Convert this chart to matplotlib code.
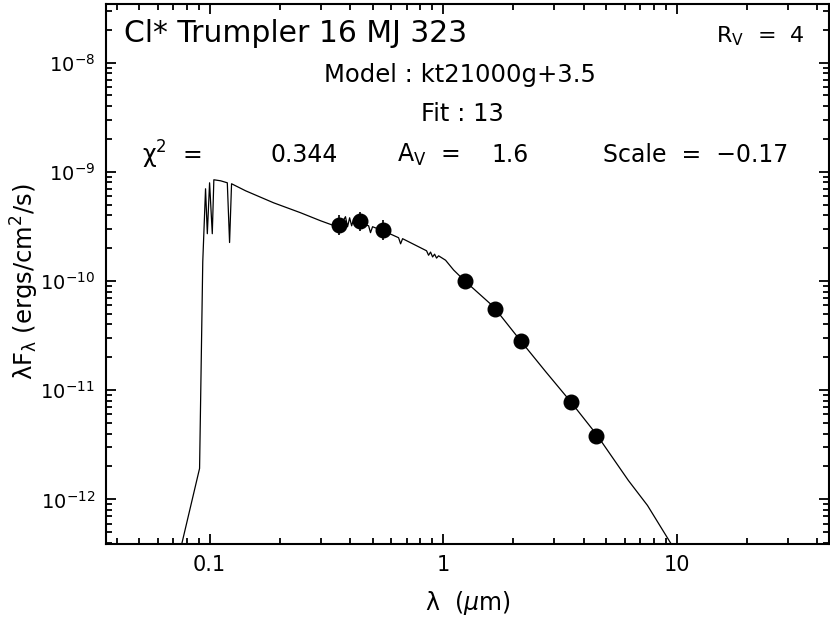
import matplotlib
matplotlib.use("Agg")
import matplotlib.pyplot as plt
from matplotlib.ticker import LogLocator, FixedLocator, FixedFormatter, NullFormatter
import numpy as np

plt.rcParams['font.family'] = ['DejaVu Sans']
plt.rcParams['mathtext.fontset'] = 'dejavusans'
plt.rcParams['mathtext.default'] = 'regular'

# model spectrum (kt21000g+3.5), wavelength in micron, lambda*F_lambda in erg/cm2/s
model_wave = [0.070, 0.0759, 0.0906, 0.0935, 0.0961, 0.0978, 0.100, 0.1027, 0.1043,
              0.1115, 0.1191, 0.1218, 0.1242, 0.1426, 0.188, 0.245, 0.2988, 0.360,
              0.382, 0.390, 0.398, 0.406, 0.414, 0.439, 0.480, 0.489, 0.499, 0.567,
              0.645, 0.658, 0.671, 0.850, 0.867, 0.884, 0.902, 0.920, 0.938, 0.957,
              1.025, 1.11, 1.236, 1.645, 2.147, 2.75, 3.516, 4.544, 6.22, 7.51, 9.52, 11.5]
model_flux = [1.86e-13, 3.86e-13, 1.92e-12, 1.5e-10, 6.99e-10, 2.71e-10, 7.93e-10, 2.71e-10, 8.45e-10,
              8.27e-10, 7.93e-10, 2.25e-10, 7.77e-10, 6.70e-10, 5.2e-10, 4.22e-10, 3.56e-10, 3.08e-10,
              3.88e-10, 3.14e-10, 3.79e-10, 3.2e-10, 3.71e-10, 3.42e-10, 3.2e-10, 2.77e-10, 3.14e-10, 2.82e-10,
              2.49e-10, 2.19e-10, 2.44e-10, 1.89e-10, 1.72e-10, 1.84e-10, 1.66e-10, 1.76e-10, 1.62e-10, 1.70e-10,
              1.55e-10, 1.26e-10, 1.007e-10, 5.82e-11, 2.84e-11, 1.48e-11, 7.87e-12, 3.93e-12, 1.49e-12, 8.8e-13,
              3.86e-13, 2.1e-13]

# photometry (U B V J H K IRAC1 IRAC2)
phot_wave = [0.360, 0.439, 0.551, 1.236, 1.662, 2.163, 3.54, 4.50]
phot_flux = [3.27e-10, 3.51e-10, 2.93e-10, 1.01e-10, 5.58e-11, 2.80e-11, 7.87e-12, 3.84e-12]
phot_err_dex = [0.09, 0.09, 0.09, 0.03, 0.03, 0.03, 0.03, 0.03]

x_ticks = [0.1, 1, 10]
x_ticklabels = ['0.1', '1', '10']
y_ticks = [1e-12, 1e-11, 1e-10, 1e-9, 1e-8]
y_ticklabels = [r'$10^{-12}$', r'$10^{-11}$', r'$10^{-10}$', r'$10^{-9}$', r'$10^{-8}$']

fig = plt.figure(figsize=(8.3, 6.17), dpi=100)
ax = fig.add_axes([0.1277, 0.1183, 0.8711, 0.8752])

ax.plot(model_wave, model_flux, color='black', linewidth=0.9)

f = np.array(phot_flux)
e = np.array(phot_err_dex)
yerr = [f - f * 10**(-e), f * 10**e - f]
ax.errorbar(phot_wave, phot_flux, yerr=yerr, fmt='o', color='black', markersize=10.5,
            elinewidth=1.2, capsize=0, zorder=5)

ax.set_xscale('log')
ax.set_yscale('log')
ax.set_xlim(0.036, 45)
ax.set_ylim(3.9e-13, 3.44e-8)

ax.xaxis.set_major_locator(FixedLocator(x_ticks))
ax.xaxis.set_major_formatter(FixedFormatter(x_ticklabels))
ax.xaxis.set_minor_locator(LogLocator(base=10, subs=np.arange(2, 10)))
ax.xaxis.set_minor_formatter(NullFormatter())
ax.yaxis.set_major_locator(FixedLocator(y_ticks))
ax.yaxis.set_major_formatter(FixedFormatter(y_ticklabels))
ax.yaxis.set_minor_locator(LogLocator(base=10, subs=np.arange(2, 10)))
ax.yaxis.set_minor_formatter(NullFormatter())

ax.tick_params(which='both', direction='in', top=True, right=True, width=1.3)
ax.tick_params(axis='x', labelsize=15)
ax.tick_params(axis='y', labelsize=14)
ax.tick_params(which='major', length=7.5, pad=8)
ax.tick_params(which='minor', length=4.5)
for s in ax.spines.values():
    s.set_linewidth(1.5)

ax.set_xlabel(r'$\lambda$  ($\mathit{\mu}$m)', fontsize=17, labelpad=10)
ax.set_ylabel(r'$\lambda$F$_\lambda$ (ergs/cm$^2$/s)', fontsize=17.5)
ax.yaxis.set_label_coords(-0.09, 0.485)

ax.text(0.025, 0.945, 'Cl* Trumpler 16 MJ 323', transform=ax.transAxes, fontsize=21.5, va='center', ha='left')
ax.text(0.967, 0.94, r'R$_V$  =  4', transform=ax.transAxes, fontsize=16, va='center', ha='right')
ax.text(0.49, 0.869, 'Model : kt21000g+3.5', transform=ax.transAxes, fontsize=17.5, va='center', ha='center')
ax.text(0.493, 0.797, 'Fit : 13', transform=ax.transAxes, fontsize=17.5, va='center', ha='center')
ax.text(0.05, 0.72, r'$\chi^2$  =', transform=ax.transAxes, fontsize=17, va='center', ha='left')
ax.text(0.228, 0.72, '0.344', transform=ax.transAxes, fontsize=17, va='center', ha='left')
ax.text(0.403, 0.72, r'A$_V$  =', transform=ax.transAxes, fontsize=17, va='center', ha='left')
ax.text(0.533, 0.72, '1.6', transform=ax.transAxes, fontsize=17, va='center', ha='left')
ax.text(0.687, 0.72, 'Scale  =  \u22120.17', transform=ax.transAxes, fontsize=17, va='center', ha='left')

fig.savefig('out.png', dpi=100)
